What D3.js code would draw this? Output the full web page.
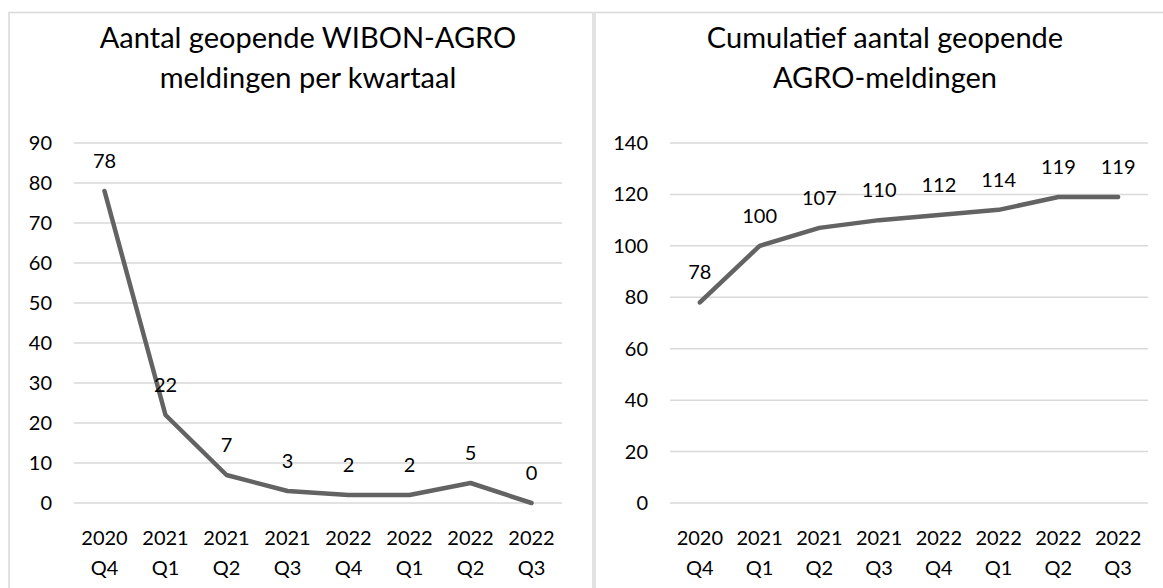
<!DOCTYPE html>
<html lang="nl">
<head>
    <meta charset="UTF-8"/>
    <title>WIBON-AGRO meldingen</title>
    <script src="https://d3js.org/d3.v7.min.js"></script>
    <style>
        body { margin: 0; background: #fff; }
        text { font-family: Lato, "Open Sans", sans-serif; fill: #000; }
    </style>
</head>
<body>
    <div id="content-area"></div>

    <script>
        // Data
        const quarters = ["2020 Q4", "2021 Q1", "2021 Q2", "2021 Q3", "2022 Q4", "2022 Q1", "2022 Q2", "2022 Q3"];
        const perQuarter = [78, 22, 7, 3, 2, 2, 5, 0];
        const cumulative = [78, 100, 107, 110, 112, 114, 119, 119];
        const ticksLeft = [0, 10, 20, 30, 40, 50, 60, 70, 80, 90];
        const ticksRight = [0, 20, 40, 60, 80, 100, 120, 140];

        const w = 1163;
        const h = 588;

        const svg = d3.select("#content-area")
            .append("svg")
            .attr("width", w)
            .attr("height", h);

        // Draw one panel
        function drawPanel(opts) {
            const g = svg.append("g");

            // panel border
            g.append("rect")
                .attr("x", opts.box[0])
                .attr("y", 12.5)
                .attr("width", opts.box[1] - opts.box[0])
                .attr("height", 600)
                .attr("fill", "#fff")
                .attr("stroke", "#d9d9d9")
                .attr("stroke-width", 1.5);

            // title
            g.append("text")
                .attr("x", opts.titleX)
                .attr("text-anchor", "middle")
                .attr("font-size", "29px")
                .selectAll("tspan")
                .data(opts.title)
                .enter()
                .append("tspan")
                .attr("x", opts.titleX)
                .attr("y", (d, i) => 48 + i * 40)
                .text(d => d);

            const x = d3.scaleBand()
                .domain(quarters)
                .range(opts.plotX)
                .padding(0);

            const y = d3.scaleLinear()
                .domain([0, opts.max])
                .range([503, 143]);

            // gridlines
            g.selectAll(".grid")
                .data(opts.ticks)
                .enter()
                .append("line")
                .attr("x1", opts.plotX[0])
                .attr("x2", opts.plotX[1])
                .attr("y1", d => y(d))
                .attr("y2", d => y(d))
                .attr("stroke", "#d9d9d9")
                .attr("stroke-width", 1.5);

            // y tick labels
            g.selectAll(".ytick")
                .data(opts.ticks)
                .enter()
                .append("text")
                .attr("x", opts.plotX[0] - 22)
                .attr("y", d => y(d) + 7)
                .attr("text-anchor", "end")
                .attr("font-size", "20px")
                .text(d => d);

            // x labels on two lines
            const xl = g.selectAll(".xtick")
                .data(quarters)
                .enter()
                .append("text")
                .attr("text-anchor", "middle")
                .attr("font-size", "20px");
            xl.append("tspan")
                .attr("x", d => x(d) + x.bandwidth() / 2)
                .attr("y", 545)
                .text(d => d.split(" ")[0]);
            xl.append("tspan")
                .attr("x", d => x(d) + x.bandwidth() / 2)
                .attr("y", 575)
                .text(d => d.split(" ")[1]);

            // line
            const line = d3.line()
                .x((d, i) => x(quarters[i]) + x.bandwidth() / 2)
                .y(d => y(d));

            g.append("path")
                .datum(opts.values)
                .attr("d", line)
                .attr("fill", "none")
                .attr("stroke", "#636363")
                .attr("stroke-width", 4.5)
                .attr("stroke-linejoin", "round")
                .attr("stroke-linecap", "round");

            // value labels
            g.selectAll(".val")
                .data(opts.values)
                .enter()
                .append("text")
                .attr("x", (d, i) => x(quarters[i]) + x.bandwidth() / 2)
                .attr("y", d => y(d) - 23)
                .attr("text-anchor", "middle")
                .attr("font-size", "20px")
                .text(d => d);
        }

        drawPanel({
            box: [9, 593],
            titleX: 308,
            title: ["Aantal geopende WIBON-AGRO", "meldingen per kwartaal"],
            plotX: [74, 562],
            max: 90,
            ticks: ticksLeft,
            values: perQuarter
        });

        drawPanel({
            box: [595, 1177],
            titleX: 885,
            title: ["Cumulatief aantal geopende", "AGRO-meldingen"],
            plotX: [670, 1148],
            max: 140,
            ticks: ticksRight,
            values: cumulative
        });
    </script>
</body>
</html>
